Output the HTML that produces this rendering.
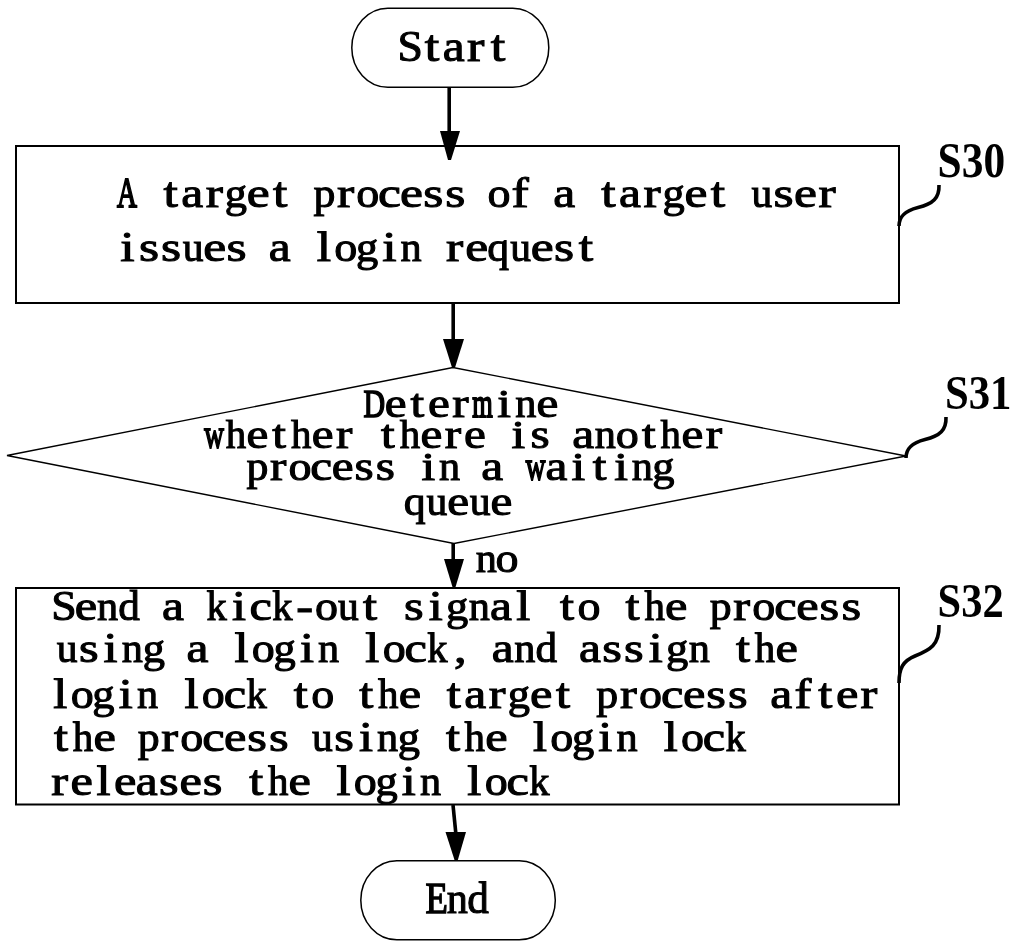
<!DOCTYPE html>
<html>
<head>
<meta charset="utf-8">
<style>
html,body{margin:0;padding:0;background:#fff;width:1016px;height:948px;overflow:hidden}
svg{display:block;will-change:transform}
.m{font-family:"Liberation Serif",serif;fill:#000;stroke:#000;stroke-width:1.05px}
.t{font-family:"Liberation Serif",serif;font-size:44px;fill:#000;stroke:#000;stroke-width:1.05px}
.lb{font-family:"Liberation Serif",serif;font-weight:bold;font-size:49px;fill:#000}
</style>
</head>
<body>
<svg width="1016" height="948" viewBox="0 0 1016 948">
<rect x="0" y="0" width="1016" height="948" fill="#fff"/>
<g fill="none" stroke="#000">
  <rect x="351.8" y="8.3" width="197" height="79" rx="36" ry="39.5" stroke-width="1.5"/>
  <rect x="16" y="146" width="883" height="157" stroke-width="2"/>
  <polygon points="7,455.5 453,367.5 906,456 454,543.5" stroke-width="1.4"/>
  <rect x="16" y="588" width="883" height="216.5" stroke-width="2"/>
  <rect x="360.8" y="860.8" width="194.5" height="79" rx="36" ry="39.5" stroke-width="1.5"/>
  <path d="M939,185 C939.5,198 933,204 918,207.5 C904,211 899,217 899,226" stroke-width="3.6"/>
  <path d="M946,417 C946.5,430 940,436 925,439.5 C911,443 906,449 906,458" stroke-width="3.6"/>
  <path d="M939,625 C939.5,645 930,650 915,656 C903,661 899,668 899,683" stroke-width="3.6"/>
  <line x1="449.2" y1="87" x2="449.2" y2="132" stroke-width="3.6"/>
  <line x1="453.2" y1="303" x2="453.2" y2="340" stroke-width="3.6"/>
  <line x1="453.2" y1="543" x2="453.2" y2="560" stroke-width="3.6"/>
  <line x1="453" y1="805" x2="455.8" y2="833" stroke-width="3.6"/>
</g>
<g fill="#000">
  <polygon points="440,131 460,131 451,160 448,160"/>
  <polygon points="443,339 464,339 455,367.5 452,367.5"/>
  <polygon points="444,559 464,559 455.5,587 452.5,587"/>
  <polygon points="445.5,832 466,832 457.7,860.5 454.7,860.5"/>
</g>
<text class="lb" x="937.6" y="177.3" style="font-size:51px" textLength="67.5" lengthAdjust="spacingAndGlyphs">S30</text>
<text class="lb" x="945" y="409" textLength="66.5" lengthAdjust="spacingAndGlyphs">S31</text>
<text class="lb" x="937.6" y="616.7" style="font-size:48px" textLength="66" lengthAdjust="spacingAndGlyphs">S32</text>
<text class="m" transform="translate(410.25,60.70) scale(1.049,1)" x="-12.20" style="font-size:43.5px">S</text>
<text class="m" transform="translate(432.20,60.70) scale(1.200,1)" x="-6.13" style="font-size:43.5px">t</text>
<text class="m" transform="translate(454.15,60.70) scale(1.135,1)" x="-10.12" style="font-size:43.5px">a</text>
<text class="m" transform="translate(476.10,60.70) scale(1.200,1)" x="-7.49" style="font-size:43.5px">r</text>
<text class="m" transform="translate(498.06,60.70) scale(1.200,1)" x="-6.13" style="font-size:43.5px">t</text>
<text class="m" transform="translate(436.25,913.40) scale(0.842,1)" x="-12.83" style="font-size:43.5px;stroke-width:1.44px">E</text>
<text class="m" transform="translate(457.45,913.40) scale(0.970,1)" x="-11.04" style="font-size:43.5px">n</text>
<text class="m" transform="translate(478.65,913.40) scale(0.993,1)" x="-11.40" style="font-size:43.5px">d</text>
<text class="m" transform="translate(127.05,206.50) scale(0.643,1)" x="-15.58" style="font-size:43.0px;stroke-width:1.94px">A</text>
<text class="m" transform="translate(170.82,206.50) scale(1.200,1)" x="-6.06" style="font-size:43.0px">t</text>
<text class="m" transform="translate(192.70,206.50) scale(1.148,1)" x="-10.00" style="font-size:43.0px">a</text>
<text class="m" transform="translate(214.59,206.50) scale(1.200,1)" x="-7.40" style="font-size:43.0px">r</text>
<text class="m" transform="translate(236.47,206.50) scale(1.035,1)" x="-11.26" style="font-size:43.0px">g</text>
<text class="m" transform="translate(258.36,206.50) scale(1.200,1)" x="-9.64" style="font-size:43.0px">e</text>
<text class="m" transform="translate(280.24,206.50) scale(1.200,1)" x="-6.06" style="font-size:43.0px">t</text>
<text class="m" transform="translate(324.01,206.50) scale(1.019,1)" x="-10.26" style="font-size:43.0px">p</text>
<text class="m" transform="translate(345.89,206.50) scale(1.200,1)" x="-7.40" style="font-size:43.0px">r</text>
<text class="m" transform="translate(367.78,206.50) scale(1.070,1)" x="-10.75" style="font-size:43.0px">o</text>
<text class="m" transform="translate(389.66,206.50) scale(1.200,1)" x="-9.70" style="font-size:43.0px">c</text>
<text class="m" transform="translate(411.55,206.50) scale(1.200,1)" x="-9.64" style="font-size:43.0px">e</text>
<text class="m" transform="translate(433.43,206.50) scale(1.200,1)" x="-8.47" style="font-size:43.0px">s</text>
<text class="m" transform="translate(455.32,206.50) scale(1.200,1)" x="-8.47" style="font-size:43.0px">s</text>
<text class="m" transform="translate(499.09,206.50) scale(1.070,1)" x="-10.75" style="font-size:43.0px">o</text>
<text class="m" transform="translate(520.97,206.50) scale(1.200,1)" x="-7.82" style="font-size:43.0px">f</text>
<text class="m" transform="translate(564.74,206.50) scale(1.148,1)" x="-10.00" style="font-size:43.0px">a</text>
<text class="m" transform="translate(608.51,206.50) scale(1.200,1)" x="-6.06" style="font-size:43.0px">t</text>
<text class="m" transform="translate(630.39,206.50) scale(1.148,1)" x="-10.00" style="font-size:43.0px">a</text>
<text class="m" transform="translate(652.28,206.50) scale(1.200,1)" x="-7.40" style="font-size:43.0px">r</text>
<text class="m" transform="translate(674.16,206.50) scale(1.035,1)" x="-11.26" style="font-size:43.0px">g</text>
<text class="m" transform="translate(696.05,206.50) scale(1.200,1)" x="-9.64" style="font-size:43.0px">e</text>
<text class="m" transform="translate(717.93,206.50) scale(1.200,1)" x="-6.06" style="font-size:43.0px">t</text>
<text class="m" transform="translate(761.70,206.50) scale(0.965,1)" x="-10.67" style="font-size:43.0px">u</text>
<text class="m" transform="translate(783.58,206.50) scale(1.200,1)" x="-8.47" style="font-size:43.0px">s</text>
<text class="m" transform="translate(805.47,206.50) scale(1.200,1)" x="-9.64" style="font-size:43.0px">e</text>
<text class="m" transform="translate(827.35,206.50) scale(1.200,1)" x="-7.40" style="font-size:43.0px">r</text>
<text class="m" transform="translate(127.44,260.50) scale(1.200,1)" x="-6.02" style="font-size:43.0px">i</text>
<text class="m" transform="translate(149.27,260.50) scale(1.200,1)" x="-8.47" style="font-size:43.0px">s</text>
<text class="m" transform="translate(171.10,260.50) scale(1.200,1)" x="-8.47" style="font-size:43.0px">s</text>
<text class="m" transform="translate(192.94,260.50) scale(0.965,1)" x="-10.67" style="font-size:43.0px">u</text>
<text class="m" transform="translate(214.77,260.50) scale(1.200,1)" x="-9.64" style="font-size:43.0px">e</text>
<text class="m" transform="translate(236.60,260.50) scale(1.200,1)" x="-8.47" style="font-size:43.0px">s</text>
<text class="m" transform="translate(280.27,260.50) scale(1.148,1)" x="-10.00" style="font-size:43.0px">a</text>
<text class="m" transform="translate(323.94,260.50) scale(1.200,1)" x="-5.97" style="font-size:43.0px">l</text>
<text class="m" transform="translate(345.77,260.50) scale(1.070,1)" x="-10.75" style="font-size:43.0px">o</text>
<text class="m" transform="translate(367.60,260.50) scale(1.035,1)" x="-11.26" style="font-size:43.0px">g</text>
<text class="m" transform="translate(389.44,260.50) scale(1.200,1)" x="-6.02" style="font-size:43.0px">i</text>
<text class="m" transform="translate(411.27,260.50) scale(0.982,1)" x="-10.92" style="font-size:43.0px">n</text>
<text class="m" transform="translate(454.94,260.50) scale(1.200,1)" x="-7.40" style="font-size:43.0px">r</text>
<text class="m" transform="translate(476.77,260.50) scale(1.200,1)" x="-9.64" style="font-size:43.0px">e</text>
<text class="m" transform="translate(498.60,260.50) scale(1.017,1)" x="-11.14" style="font-size:43.0px">q</text>
<text class="m" transform="translate(520.44,260.50) scale(0.965,1)" x="-10.67" style="font-size:43.0px">u</text>
<text class="m" transform="translate(542.27,260.50) scale(1.200,1)" x="-9.64" style="font-size:43.0px">e</text>
<text class="m" transform="translate(564.10,260.50) scale(1.200,1)" x="-8.47" style="font-size:43.0px">s</text>
<text class="m" transform="translate(585.94,260.50) scale(1.200,1)" x="-6.06" style="font-size:43.0px">t</text>
<text class="m" transform="translate(374.05,417.00) scale(0.728,1)" x="-14.57" style="font-size:41.0px;stroke-width:1.73px">D</text>
<text class="m" transform="translate(395.74,417.00) scale(1.200,1)" x="-9.19" style="font-size:41.0px">e</text>
<text class="m" transform="translate(417.44,417.00) scale(1.200,1)" x="-5.78" style="font-size:41.0px">t</text>
<text class="m" transform="translate(439.13,417.00) scale(1.200,1)" x="-9.19" style="font-size:41.0px">e</text>
<text class="m" transform="translate(460.82,417.00) scale(1.200,1)" x="-7.06" style="font-size:41.0px">r</text>
<text class="m" transform="translate(482.52,417.00) scale(0.642,1)" x="-16.06" style="font-size:41.0px;stroke-width:1.95px">m</text>
<text class="m" transform="translate(504.21,417.00) scale(1.200,1)" x="-5.74" style="font-size:41.0px">i</text>
<text class="m" transform="translate(525.90,417.00) scale(1.030,1)" x="-10.41" style="font-size:41.0px">n</text>
<text class="m" transform="translate(547.60,417.00) scale(1.200,1)" x="-9.19" style="font-size:41.0px">e</text>
<text class="m" transform="translate(214.05,448.00) scale(0.664,1)" x="-14.73" style="font-size:41.0px;stroke-width:1.89px">w</text>
<text class="m" transform="translate(235.80,448.00) scale(0.997,1)" x="-10.18" style="font-size:41.0px">h</text>
<text class="m" transform="translate(257.54,448.00) scale(1.200,1)" x="-9.19" style="font-size:41.0px">e</text>
<text class="m" transform="translate(279.29,448.00) scale(1.200,1)" x="-5.78" style="font-size:41.0px">t</text>
<text class="m" transform="translate(301.04,448.00) scale(0.997,1)" x="-10.18" style="font-size:41.0px">h</text>
<text class="m" transform="translate(322.78,448.00) scale(1.200,1)" x="-9.19" style="font-size:41.0px">e</text>
<text class="m" transform="translate(344.53,448.00) scale(1.200,1)" x="-7.06" style="font-size:41.0px">r</text>
<text class="m" transform="translate(388.02,448.00) scale(1.200,1)" x="-5.78" style="font-size:41.0px">t</text>
<text class="m" transform="translate(409.77,448.00) scale(0.997,1)" x="-10.18" style="font-size:41.0px">h</text>
<text class="m" transform="translate(431.51,448.00) scale(1.200,1)" x="-9.19" style="font-size:41.0px">e</text>
<text class="m" transform="translate(453.26,448.00) scale(1.200,1)" x="-7.06" style="font-size:41.0px">r</text>
<text class="m" transform="translate(475.01,448.00) scale(1.200,1)" x="-9.19" style="font-size:41.0px">e</text>
<text class="m" transform="translate(518.50,448.00) scale(1.200,1)" x="-5.74" style="font-size:41.0px">i</text>
<text class="m" transform="translate(540.25,448.00) scale(1.200,1)" x="-8.08" style="font-size:41.0px">s</text>
<text class="m" transform="translate(583.74,448.00) scale(1.200,1)" x="-9.54" style="font-size:41.0px">a</text>
<text class="m" transform="translate(605.48,448.00) scale(1.030,1)" x="-10.41" style="font-size:41.0px">n</text>
<text class="m" transform="translate(627.23,448.00) scale(1.122,1)" x="-10.25" style="font-size:41.0px">o</text>
<text class="m" transform="translate(648.98,448.00) scale(1.200,1)" x="-5.78" style="font-size:41.0px">t</text>
<text class="m" transform="translate(670.72,448.00) scale(0.997,1)" x="-10.18" style="font-size:41.0px">h</text>
<text class="m" transform="translate(692.47,448.00) scale(1.200,1)" x="-9.19" style="font-size:41.0px">e</text>
<text class="m" transform="translate(714.22,448.00) scale(1.200,1)" x="-7.06" style="font-size:41.0px">r</text>
<text class="m" transform="translate(257.05,480.00) scale(1.069,1)" x="-9.78" style="font-size:41.0px">p</text>
<text class="m" transform="translate(278.47,480.00) scale(1.200,1)" x="-7.06" style="font-size:41.0px">r</text>
<text class="m" transform="translate(299.88,480.00) scale(1.122,1)" x="-10.25" style="font-size:41.0px">o</text>
<text class="m" transform="translate(321.30,480.00) scale(1.200,1)" x="-9.25" style="font-size:41.0px">c</text>
<text class="m" transform="translate(342.71,480.00) scale(1.200,1)" x="-9.19" style="font-size:41.0px">e</text>
<text class="m" transform="translate(364.13,480.00) scale(1.200,1)" x="-8.08" style="font-size:41.0px">s</text>
<text class="m" transform="translate(385.54,480.00) scale(1.200,1)" x="-8.08" style="font-size:41.0px">s</text>
<text class="m" transform="translate(428.38,480.00) scale(1.200,1)" x="-5.74" style="font-size:41.0px">i</text>
<text class="m" transform="translate(449.79,480.00) scale(1.030,1)" x="-10.41" style="font-size:41.0px">n</text>
<text class="m" transform="translate(492.62,480.00) scale(1.200,1)" x="-9.54" style="font-size:41.0px">a</text>
<text class="m" transform="translate(535.46,480.00) scale(0.664,1)" x="-14.73" style="font-size:41.0px;stroke-width:1.89px">w</text>
<text class="m" transform="translate(556.87,480.00) scale(1.200,1)" x="-9.54" style="font-size:41.0px">a</text>
<text class="m" transform="translate(578.29,480.00) scale(1.200,1)" x="-5.74" style="font-size:41.0px">i</text>
<text class="m" transform="translate(599.70,480.00) scale(1.200,1)" x="-5.78" style="font-size:41.0px">t</text>
<text class="m" transform="translate(621.12,480.00) scale(1.200,1)" x="-5.74" style="font-size:41.0px">i</text>
<text class="m" transform="translate(642.53,480.00) scale(1.030,1)" x="-10.41" style="font-size:41.0px">n</text>
<text class="m" transform="translate(663.95,480.00) scale(1.086,1)" x="-10.74" style="font-size:41.0px">g</text>
<text class="m" transform="translate(415.05,515.00) scale(1.067,1)" x="-10.62" style="font-size:41.0px">q</text>
<text class="m" transform="translate(436.69,515.00) scale(1.013,1)" x="-10.17" style="font-size:41.0px">u</text>
<text class="m" transform="translate(458.32,515.00) scale(1.200,1)" x="-9.19" style="font-size:41.0px">e</text>
<text class="m" transform="translate(479.96,515.00) scale(1.013,1)" x="-10.17" style="font-size:41.0px">u</text>
<text class="m" transform="translate(501.60,515.00) scale(1.200,1)" x="-9.19" style="font-size:41.0px">e</text>
<text class="m" transform="translate(486.55,572.00) scale(0.982,1)" x="-10.92" style="font-size:43.0px">n</text>
<text class="m" transform="translate(506.95,572.00) scale(1.070,1)" x="-10.75" style="font-size:43.0px">o</text>
<text class="m" transform="translate(64.05,619.60) scale(1.087,1)" x="-11.78" style="font-size:42.0px">S</text>
<text class="m" transform="translate(85.92,619.60) scale(1.200,1)" x="-9.41" style="font-size:42.0px">e</text>
<text class="m" transform="translate(107.79,619.60) scale(1.005,1)" x="-10.66" style="font-size:42.0px">n</text>
<text class="m" transform="translate(129.66,619.60) scale(1.028,1)" x="-11.00" style="font-size:42.0px">d</text>
<text class="m" transform="translate(173.40,619.60) scale(1.175,1)" x="-9.77" style="font-size:42.0px">a</text>
<text class="m" transform="translate(217.13,619.60) scale(0.965,1)" x="-10.90" style="font-size:42.0px">k</text>
<text class="m" transform="translate(239.00,619.60) scale(1.200,1)" x="-5.88" style="font-size:42.0px">i</text>
<text class="m" transform="translate(260.87,619.60) scale(1.200,1)" x="-9.47" style="font-size:42.0px">c</text>
<text class="m" transform="translate(282.74,619.60) scale(0.965,1)" x="-10.90" style="font-size:42.0px">k</text>
<text class="m" transform="translate(304.61,619.60) scale(1.200,1)" x="-7.01" style="font-size:42.0px">-</text>
<text class="m" transform="translate(326.48,619.60) scale(1.095,1)" x="-10.50" style="font-size:42.0px">o</text>
<text class="m" transform="translate(348.35,619.60) scale(0.988,1)" x="-10.42" style="font-size:42.0px">u</text>
<text class="m" transform="translate(370.22,619.60) scale(1.200,1)" x="-5.92" style="font-size:42.0px">t</text>
<text class="m" transform="translate(413.96,619.60) scale(1.200,1)" x="-8.27" style="font-size:42.0px">s</text>
<text class="m" transform="translate(435.82,619.60) scale(1.200,1)" x="-5.88" style="font-size:42.0px">i</text>
<text class="m" transform="translate(457.69,619.60) scale(1.060,1)" x="-11.00" style="font-size:42.0px">g</text>
<text class="m" transform="translate(479.56,619.60) scale(1.005,1)" x="-10.66" style="font-size:42.0px">n</text>
<text class="m" transform="translate(501.43,619.60) scale(1.175,1)" x="-9.77" style="font-size:42.0px">a</text>
<text class="m" transform="translate(523.30,619.60) scale(1.200,1)" x="-5.83" style="font-size:42.0px">l</text>
<text class="m" transform="translate(567.04,619.60) scale(1.200,1)" x="-5.92" style="font-size:42.0px">t</text>
<text class="m" transform="translate(588.91,619.60) scale(1.095,1)" x="-10.50" style="font-size:42.0px">o</text>
<text class="m" transform="translate(632.65,619.60) scale(1.200,1)" x="-5.92" style="font-size:42.0px">t</text>
<text class="m" transform="translate(654.52,619.60) scale(0.973,1)" x="-10.43" style="font-size:42.0px">h</text>
<text class="m" transform="translate(676.38,619.60) scale(1.200,1)" x="-9.41" style="font-size:42.0px">e</text>
<text class="m" transform="translate(720.12,619.60) scale(1.044,1)" x="-10.02" style="font-size:42.0px">p</text>
<text class="m" transform="translate(741.99,619.60) scale(1.200,1)" x="-7.23" style="font-size:42.0px">r</text>
<text class="m" transform="translate(763.86,619.60) scale(1.095,1)" x="-10.50" style="font-size:42.0px">o</text>
<text class="m" transform="translate(785.73,619.60) scale(1.200,1)" x="-9.47" style="font-size:42.0px">c</text>
<text class="m" transform="translate(807.60,619.60) scale(1.200,1)" x="-9.41" style="font-size:42.0px">e</text>
<text class="m" transform="translate(829.47,619.60) scale(1.200,1)" x="-8.27" style="font-size:42.0px">s</text>
<text class="m" transform="translate(851.34,619.60) scale(1.200,1)" x="-8.27" style="font-size:42.0px">s</text>
<text class="m" transform="translate(67.05,661.70) scale(0.988,1)" x="-10.42" style="font-size:42.0px">u</text>
<text class="m" transform="translate(88.86,661.70) scale(1.200,1)" x="-8.27" style="font-size:42.0px">s</text>
<text class="m" transform="translate(110.66,661.70) scale(1.200,1)" x="-5.88" style="font-size:42.0px">i</text>
<text class="m" transform="translate(132.47,661.70) scale(1.005,1)" x="-10.66" style="font-size:42.0px">n</text>
<text class="m" transform="translate(154.28,661.70) scale(1.060,1)" x="-11.00" style="font-size:42.0px">g</text>
<text class="m" transform="translate(197.89,661.70) scale(1.175,1)" x="-9.77" style="font-size:42.0px">a</text>
<text class="m" transform="translate(241.50,661.70) scale(1.200,1)" x="-5.83" style="font-size:42.0px">l</text>
<text class="m" transform="translate(263.31,661.70) scale(1.095,1)" x="-10.50" style="font-size:42.0px">o</text>
<text class="m" transform="translate(285.12,661.70) scale(1.060,1)" x="-11.00" style="font-size:42.0px">g</text>
<text class="m" transform="translate(306.92,661.70) scale(1.200,1)" x="-5.88" style="font-size:42.0px">i</text>
<text class="m" transform="translate(328.73,661.70) scale(1.005,1)" x="-10.66" style="font-size:42.0px">n</text>
<text class="m" transform="translate(372.34,661.70) scale(1.200,1)" x="-5.83" style="font-size:42.0px">l</text>
<text class="m" transform="translate(394.15,661.70) scale(1.095,1)" x="-10.50" style="font-size:42.0px">o</text>
<text class="m" transform="translate(415.96,661.70) scale(1.200,1)" x="-9.47" style="font-size:42.0px">c</text>
<text class="m" transform="translate(437.76,661.70) scale(0.965,1)" x="-10.90" style="font-size:42.0px">k</text>
<text class="m" transform="translate(459.57,661.70) scale(1.200,1)" x="-4.73" style="font-size:42.0px">,</text>
<text class="m" transform="translate(503.19,661.70) scale(1.175,1)" x="-9.77" style="font-size:42.0px">a</text>
<text class="m" transform="translate(524.99,661.70) scale(1.005,1)" x="-10.66" style="font-size:42.0px">n</text>
<text class="m" transform="translate(546.80,661.70) scale(1.028,1)" x="-11.00" style="font-size:42.0px">d</text>
<text class="m" transform="translate(590.41,661.70) scale(1.175,1)" x="-9.77" style="font-size:42.0px">a</text>
<text class="m" transform="translate(612.22,661.70) scale(1.200,1)" x="-8.27" style="font-size:42.0px">s</text>
<text class="m" transform="translate(634.03,661.70) scale(1.200,1)" x="-8.27" style="font-size:42.0px">s</text>
<text class="m" transform="translate(655.83,661.70) scale(1.200,1)" x="-5.88" style="font-size:42.0px">i</text>
<text class="m" transform="translate(677.64,661.70) scale(1.060,1)" x="-11.00" style="font-size:42.0px">g</text>
<text class="m" transform="translate(699.45,661.70) scale(1.005,1)" x="-10.66" style="font-size:42.0px">n</text>
<text class="m" transform="translate(743.06,661.70) scale(1.200,1)" x="-5.92" style="font-size:42.0px">t</text>
<text class="m" transform="translate(764.87,661.70) scale(0.973,1)" x="-10.43" style="font-size:42.0px">h</text>
<text class="m" transform="translate(786.67,661.70) scale(1.200,1)" x="-9.41" style="font-size:42.0px">e</text>
<text class="m" transform="translate(60.29,707.60) scale(1.200,1)" x="-5.83" style="font-size:42.0px">l</text>
<text class="m" transform="translate(82.15,707.60) scale(1.095,1)" x="-10.50" style="font-size:42.0px">o</text>
<text class="m" transform="translate(104.01,707.60) scale(1.060,1)" x="-11.00" style="font-size:42.0px">g</text>
<text class="m" transform="translate(125.87,707.60) scale(1.200,1)" x="-5.88" style="font-size:42.0px">i</text>
<text class="m" transform="translate(147.73,707.60) scale(1.005,1)" x="-10.66" style="font-size:42.0px">n</text>
<text class="m" transform="translate(191.46,707.60) scale(1.200,1)" x="-5.83" style="font-size:42.0px">l</text>
<text class="m" transform="translate(213.32,707.60) scale(1.095,1)" x="-10.50" style="font-size:42.0px">o</text>
<text class="m" transform="translate(235.18,707.60) scale(1.200,1)" x="-9.47" style="font-size:42.0px">c</text>
<text class="m" transform="translate(257.04,707.60) scale(0.965,1)" x="-10.90" style="font-size:42.0px">k</text>
<text class="m" transform="translate(300.76,707.60) scale(1.200,1)" x="-5.92" style="font-size:42.0px">t</text>
<text class="m" transform="translate(322.62,707.60) scale(1.095,1)" x="-10.50" style="font-size:42.0px">o</text>
<text class="m" transform="translate(366.34,707.60) scale(1.200,1)" x="-5.92" style="font-size:42.0px">t</text>
<text class="m" transform="translate(388.20,707.60) scale(0.973,1)" x="-10.43" style="font-size:42.0px">h</text>
<text class="m" transform="translate(410.06,707.60) scale(1.200,1)" x="-9.41" style="font-size:42.0px">e</text>
<text class="m" transform="translate(453.78,707.60) scale(1.200,1)" x="-5.92" style="font-size:42.0px">t</text>
<text class="m" transform="translate(475.64,707.60) scale(1.175,1)" x="-9.77" style="font-size:42.0px">a</text>
<text class="m" transform="translate(497.50,707.60) scale(1.200,1)" x="-7.23" style="font-size:42.0px">r</text>
<text class="m" transform="translate(519.36,707.60) scale(1.060,1)" x="-11.00" style="font-size:42.0px">g</text>
<text class="m" transform="translate(541.23,707.60) scale(1.200,1)" x="-9.41" style="font-size:42.0px">e</text>
<text class="m" transform="translate(563.09,707.60) scale(1.200,1)" x="-5.92" style="font-size:42.0px">t</text>
<text class="m" transform="translate(606.81,707.60) scale(1.044,1)" x="-10.02" style="font-size:42.0px">p</text>
<text class="m" transform="translate(628.67,707.60) scale(1.200,1)" x="-7.23" style="font-size:42.0px">r</text>
<text class="m" transform="translate(650.53,707.60) scale(1.095,1)" x="-10.50" style="font-size:42.0px">o</text>
<text class="m" transform="translate(672.39,707.60) scale(1.200,1)" x="-9.47" style="font-size:42.0px">c</text>
<text class="m" transform="translate(694.25,707.60) scale(1.200,1)" x="-9.41" style="font-size:42.0px">e</text>
<text class="m" transform="translate(716.11,707.60) scale(1.200,1)" x="-8.27" style="font-size:42.0px">s</text>
<text class="m" transform="translate(737.97,707.60) scale(1.200,1)" x="-8.27" style="font-size:42.0px">s</text>
<text class="m" transform="translate(781.69,707.60) scale(1.175,1)" x="-9.77" style="font-size:42.0px">a</text>
<text class="m" transform="translate(803.55,707.60) scale(1.200,1)" x="-7.64" style="font-size:42.0px">f</text>
<text class="m" transform="translate(825.41,707.60) scale(1.200,1)" x="-5.92" style="font-size:42.0px">t</text>
<text class="m" transform="translate(847.27,707.60) scale(1.200,1)" x="-9.41" style="font-size:42.0px">e</text>
<text class="m" transform="translate(869.13,707.60) scale(1.200,1)" x="-7.23" style="font-size:42.0px">r</text>
<text class="m" transform="translate(61.21,750.50) scale(1.200,1)" x="-5.92" style="font-size:42.0px">t</text>
<text class="m" transform="translate(82.97,750.50) scale(0.973,1)" x="-10.43" style="font-size:42.0px">h</text>
<text class="m" transform="translate(104.74,750.50) scale(1.200,1)" x="-9.41" style="font-size:42.0px">e</text>
<text class="m" transform="translate(148.27,750.50) scale(1.044,1)" x="-10.02" style="font-size:42.0px">p</text>
<text class="m" transform="translate(170.04,750.50) scale(1.200,1)" x="-7.23" style="font-size:42.0px">r</text>
<text class="m" transform="translate(191.80,750.50) scale(1.095,1)" x="-10.50" style="font-size:42.0px">o</text>
<text class="m" transform="translate(213.57,750.50) scale(1.200,1)" x="-9.47" style="font-size:42.0px">c</text>
<text class="m" transform="translate(235.33,750.50) scale(1.200,1)" x="-9.41" style="font-size:42.0px">e</text>
<text class="m" transform="translate(257.10,750.50) scale(1.200,1)" x="-8.27" style="font-size:42.0px">s</text>
<text class="m" transform="translate(278.87,750.50) scale(1.200,1)" x="-8.27" style="font-size:42.0px">s</text>
<text class="m" transform="translate(322.40,750.50) scale(0.988,1)" x="-10.42" style="font-size:42.0px">u</text>
<text class="m" transform="translate(344.16,750.50) scale(1.200,1)" x="-8.27" style="font-size:42.0px">s</text>
<text class="m" transform="translate(365.93,750.50) scale(1.200,1)" x="-5.88" style="font-size:42.0px">i</text>
<text class="m" transform="translate(387.70,750.50) scale(1.005,1)" x="-10.66" style="font-size:42.0px">n</text>
<text class="m" transform="translate(409.46,750.50) scale(1.060,1)" x="-11.00" style="font-size:42.0px">g</text>
<text class="m" transform="translate(452.99,750.50) scale(1.200,1)" x="-5.92" style="font-size:42.0px">t</text>
<text class="m" transform="translate(474.76,750.50) scale(0.973,1)" x="-10.43" style="font-size:42.0px">h</text>
<text class="m" transform="translate(496.53,750.50) scale(1.200,1)" x="-9.41" style="font-size:42.0px">e</text>
<text class="m" transform="translate(540.06,750.50) scale(1.200,1)" x="-5.83" style="font-size:42.0px">l</text>
<text class="m" transform="translate(561.82,750.50) scale(1.095,1)" x="-10.50" style="font-size:42.0px">o</text>
<text class="m" transform="translate(583.59,750.50) scale(1.060,1)" x="-11.00" style="font-size:42.0px">g</text>
<text class="m" transform="translate(605.35,750.50) scale(1.200,1)" x="-5.88" style="font-size:42.0px">i</text>
<text class="m" transform="translate(627.12,750.50) scale(1.005,1)" x="-10.66" style="font-size:42.0px">n</text>
<text class="m" transform="translate(670.65,750.50) scale(1.200,1)" x="-5.83" style="font-size:42.0px">l</text>
<text class="m" transform="translate(692.42,750.50) scale(1.095,1)" x="-10.50" style="font-size:42.0px">o</text>
<text class="m" transform="translate(714.18,750.50) scale(1.200,1)" x="-9.47" style="font-size:42.0px">c</text>
<text class="m" transform="translate(735.95,750.50) scale(0.965,1)" x="-10.90" style="font-size:42.0px">k</text>
<text class="m" transform="translate(59.97,794.60) scale(1.200,1)" x="-7.23" style="font-size:42.0px">r</text>
<text class="m" transform="translate(81.77,794.60) scale(1.200,1)" x="-9.41" style="font-size:42.0px">e</text>
<text class="m" transform="translate(103.58,794.60) scale(1.200,1)" x="-5.83" style="font-size:42.0px">l</text>
<text class="m" transform="translate(125.39,794.60) scale(1.200,1)" x="-9.41" style="font-size:42.0px">e</text>
<text class="m" transform="translate(147.20,794.60) scale(1.175,1)" x="-9.77" style="font-size:42.0px">a</text>
<text class="m" transform="translate(169.01,794.60) scale(1.200,1)" x="-8.27" style="font-size:42.0px">s</text>
<text class="m" transform="translate(190.82,794.60) scale(1.200,1)" x="-9.41" style="font-size:42.0px">e</text>
<text class="m" transform="translate(212.62,794.60) scale(1.200,1)" x="-8.27" style="font-size:42.0px">s</text>
<text class="m" transform="translate(256.24,794.60) scale(1.200,1)" x="-5.92" style="font-size:42.0px">t</text>
<text class="m" transform="translate(278.05,794.60) scale(0.973,1)" x="-10.43" style="font-size:42.0px">h</text>
<text class="m" transform="translate(299.86,794.60) scale(1.200,1)" x="-9.41" style="font-size:42.0px">e</text>
<text class="m" transform="translate(343.47,794.60) scale(1.200,1)" x="-5.83" style="font-size:42.0px">l</text>
<text class="m" transform="translate(365.28,794.60) scale(1.095,1)" x="-10.50" style="font-size:42.0px">o</text>
<text class="m" transform="translate(387.09,794.60) scale(1.060,1)" x="-11.00" style="font-size:42.0px">g</text>
<text class="m" transform="translate(408.90,794.60) scale(1.200,1)" x="-5.88" style="font-size:42.0px">i</text>
<text class="m" transform="translate(430.71,794.60) scale(1.005,1)" x="-10.66" style="font-size:42.0px">n</text>
<text class="m" transform="translate(474.32,794.60) scale(1.200,1)" x="-5.83" style="font-size:42.0px">l</text>
<text class="m" transform="translate(496.13,794.60) scale(1.095,1)" x="-10.50" style="font-size:42.0px">o</text>
<text class="m" transform="translate(517.94,794.60) scale(1.200,1)" x="-9.47" style="font-size:42.0px">c</text>
<text class="m" transform="translate(539.75,794.60) scale(0.965,1)" x="-10.90" style="font-size:42.0px">k</text>
</svg>
</body>
</html>
